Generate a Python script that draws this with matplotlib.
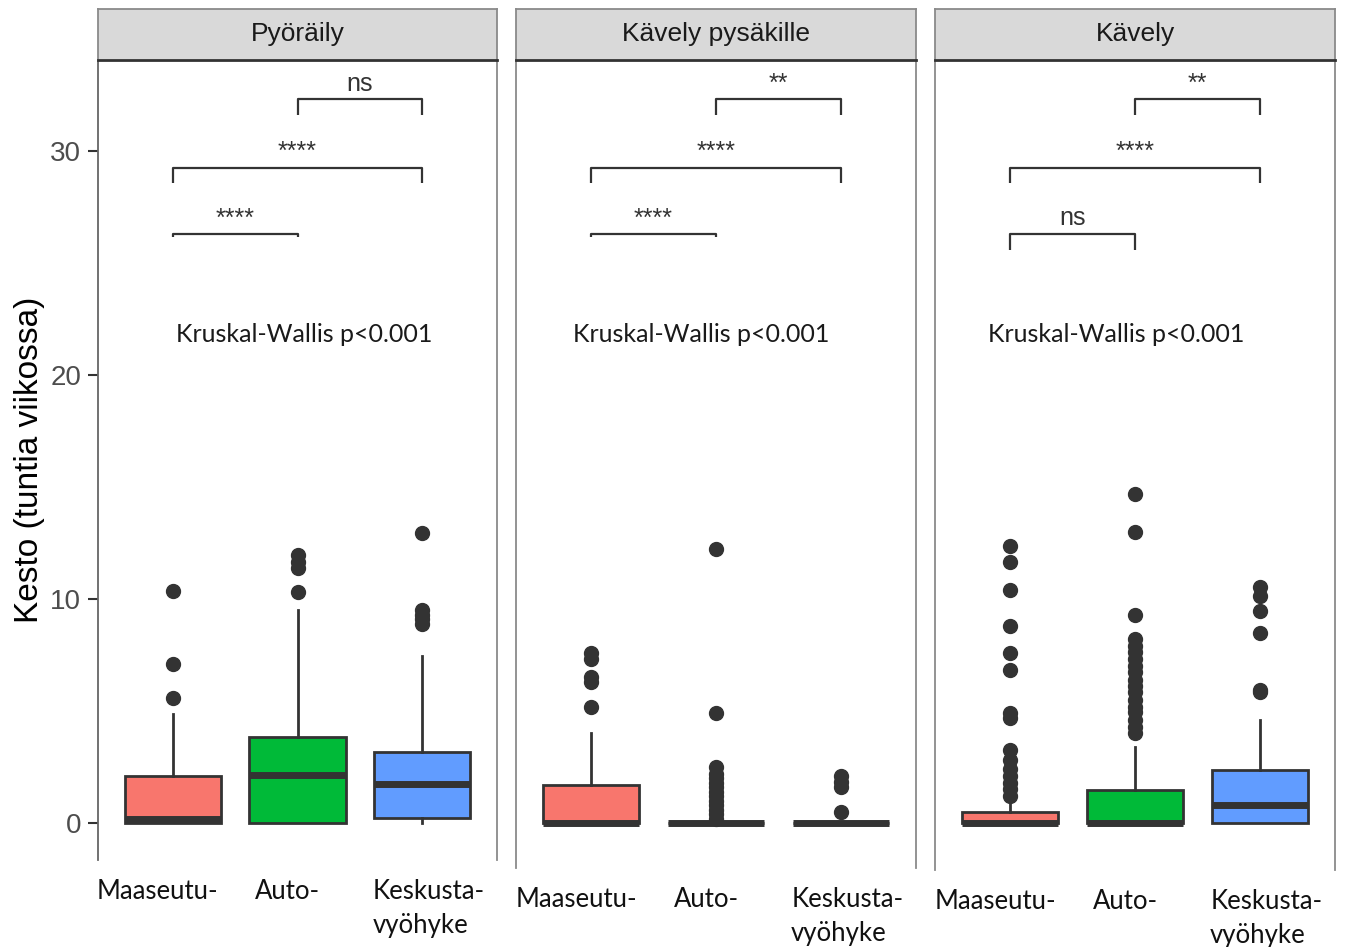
import matplotlib
matplotlib.use('Agg')
import matplotlib.pyplot as plt

plt.rcParams['font.family'] = ['Liberation Sans', 'DejaVu Sans']

# Data
modes = ['Pyöräily', 'Kävely pysäkille', 'Kävely']
groups = ['Maaseutu-', 'Auto-', 'Keskusta-\nvyöhyke']
colors = ['#F8766D', '#00BA38', '#619CFF']

box_q1 = [[0.0, 0.0, 0.22], [0.0, 0.0, 0.0], [0.0, 0.0, 0.0]]
box_med = [[0.2, 2.15, 1.75], [0.0, 0.0, 0.0], [0.0, 0.0, 0.8]]
box_q3 = [[2.1, 3.85, 3.15], [1.7, 0.0, 0.0], [0.5, 1.47, 2.35]]
whisk_lo = [[0.0, 0.0, 0.0], [0.0, 0.0, 0.0], [0.0, 0.0, 0.0]]
whisk_hi = [[4.85, 9.5, 7.45], [4.0, 0.0, 0.0], [0.9, 3.4, 4.6]]
outliers = [
    [[5.6, 7.1, 10.35],
     [10.3, 11.4, 11.65, 11.95],
     [8.9, 9.1, 9.3, 9.5, 12.95]],
    [[5.2, 6.3, 6.5, 7.3, 7.6],
     [0.2, 0.4, 0.6, 0.8, 1.0, 1.2, 1.4, 1.6, 1.8, 2.0, 2.2, 2.5, 4.9, 12.25],
     [0.5, 1.6, 1.85, 2.1]],
    [[1.2, 1.5, 1.8, 2.1, 2.4, 2.8, 3.25, 4.7, 4.9, 6.85, 7.6, 8.8, 10.4, 11.65, 12.35],
     [4.0, 4.3, 4.6, 4.95, 5.2, 5.5, 5.85, 6.1, 6.4, 6.75, 7.0, 7.3, 7.65, 7.9, 8.2, 9.3, 13.0, 14.7],
     [5.85, 5.95, 8.5, 9.45, 10.15, 10.55]],
]

# significance brackets: (x1, x2), bracket height, label per panel
bracket_pairs = [(2, 3), (1, 3), (1, 2)]
bracket_y = [32.3, 29.25, 26.3]
bracket_labels = [['ns', '****', '****'], ['**', '****', '****'], ['**', '****', 'ns']]
bracket_tips = [[0.7, 0.7, 0.12], [0.7, 0.7, 0.12], [0.7, 0.7, 0.7]]
kw_text = 'Kruskal-Wallis p<0.001'
kw_x = [2.05, 1.88, 1.85]
kw_y = 21.8

W, H = 1346, 947
fig = plt.figure(figsize=(W / 100, H / 100), dpi=100)

def px(x0, y0, x1, y1):
    return [x0 / W, 1 - y1 / H, (x1 - x0) / W, (y1 - y0) / H]

panel_x = [(98, 497), (516, 916), (935, 1335)]
panel_bottom = [860, 868, 870]
label_dx = [-0.12, -0.08, 0.05]  # small horizontal shifts of the group labels
y0px, ppu = 823, 22.4  # pixel of y=0 and pixels per unit

dark = '#333333'
for i, mode in enumerate(modes):
    x0, x1 = panel_x[i]
    ax = fig.add_axes(px(x0, 60, x1, panel_bottom[i]))
    stats = []
    for j in range(3):
        stats.append(dict(q1=box_q1[i][j], med=box_med[i][j], q3=box_q3[i][j],
                          whislo=whisk_lo[i][j], whishi=whisk_hi[i][j],
                          fliers=outliers[i][j]))
    bp = ax.bxp(stats, positions=[1, 2, 3], widths=0.77, patch_artist=True,
                showcaps=False,
                boxprops=dict(edgecolor=dark, linewidth=2),
                medianprops=dict(color=dark, linewidth=5, solid_capstyle='butt'),
                whiskerprops=dict(color=dark, linewidth=2),
                flierprops=dict(marker='o', markerfacecolor=dark,
                                markeredgecolor=dark, markersize=10))
    for patch, c in zip(bp['boxes'], colors):
        patch.set_facecolor(c)

    # brackets
    for k, (a, b) in enumerate(bracket_pairs):
        y = bracket_y[k]
        t = bracket_tips[i][k]
        ax.plot([a, a, b, b], [y - t, y, y, y - t], color=dark, lw=1.6,
                solid_capstyle='butt')
        ax.text((a + b) / 2, y + 0.38, bracket_labels[i][k], ha='center',
                va='baseline', fontsize=18, color=dark)

    ax.text(kw_x[i], kw_y, kw_text, ha='center', va='center', fontsize=18,
            family='Lato', color='#1a1a1a')

    # group labels under the panel
    for j, g in enumerate(groups):
        ax.annotate(g, xy=(j + 1 + label_dx[j], 0), xycoords=ax.get_xaxis_transform(),
                    xytext=(0, -14), textcoords='offset points', ha='center',
                    va='top', fontsize=18.5, family='Lato', color='#111111',
                    multialignment='left', linespacing=1.45, annotation_clip=False)

    ax.set_xlim(0.4, 3.6)
    ax.set_ylim(-(panel_bottom[i] - y0px) / ppu, (y0px - 60) / ppu)
    ax.set_xticks([])
    for sp in ['top', 'bottom']:
        ax.spines[sp].set_visible(False)
    for sp in ['left', 'right']:
        ax.spines[sp].set_color('#8a8a8a')
        ax.spines[sp].set_linewidth(1.3)
    if i == 0:
        ax.set_yticks([0, 10, 20, 30])
        ax.tick_params(axis='y', length=7, width=1.5, color=dark,
                       labelsize=20, labelcolor='#4D4D4D', pad=5)
        ax.set_ylabel('Kesto (tuntia viikossa)', fontsize=24, labelpad=4)
        ax.spines['left'].set_color('#666666')
    else:
        ax.set_yticks([])

    # facet strip
    sx = fig.add_axes(px(x0, 9, x1, 60))
    sx.set_facecolor('#D9D9D9')
    sx.set_xticks([])
    sx.set_yticks([])
    for sp in sx.spines.values():
        sp.set_color('#8a8a8a')
        sp.set_linewidth(1.3)
    sx.spines['bottom'].set_color(dark)
    sx.spines['bottom'].set_linewidth(2)
    sx.text(0.5, 0.5, mode, ha='center', va='center', fontsize=19,
            color='#1a1a1a', transform=sx.transAxes)

fig.savefig('out.png', dpi=100)
